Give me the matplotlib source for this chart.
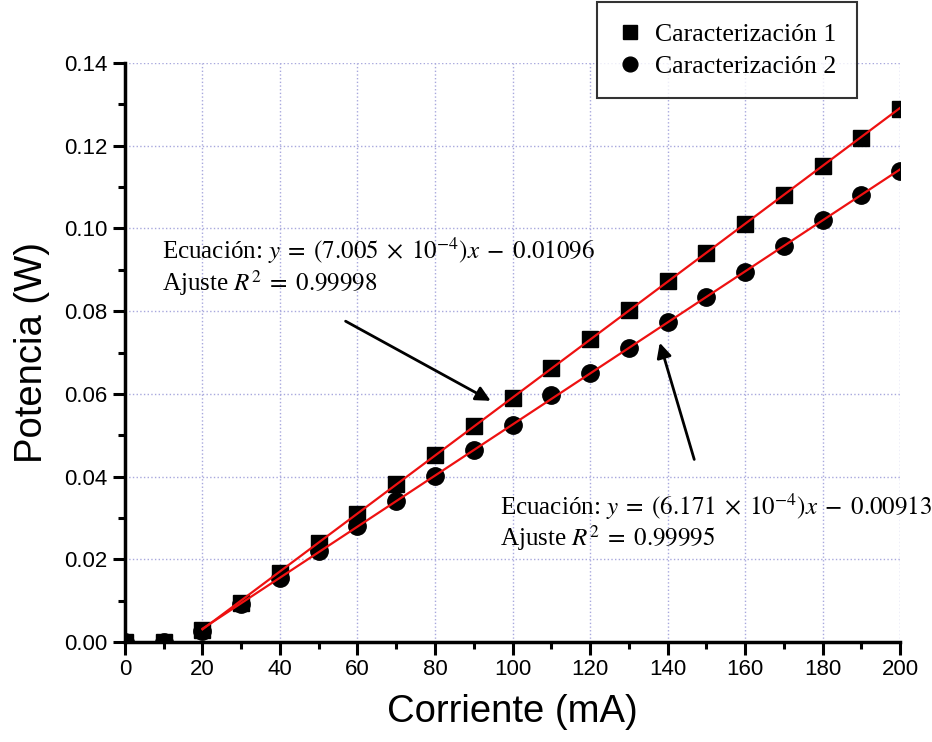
import numpy as np
import matplotlib.pyplot as plt
from matplotlib.ticker import MultipleLocator

# Datos
corriente = [0, 10, 20, 30, 40, 50, 60, 70, 80, 90, 100, 110, 120, 130, 140, 150, 160, 170, 180, 190, 200]
potencia_1 = [0.0, 0.0, 0.0030, 0.0095, 0.0167, 0.0239, 0.0310, 0.0382, 0.0452, 0.0522, 0.0590, 0.0662,
              0.0732, 0.0802, 0.0872, 0.0940, 0.1010, 0.1080, 0.1150, 0.1220, 0.1290]
potencia_2 = [0.0, 0.0, 0.0027, 0.0092, 0.0155, 0.0220, 0.0280, 0.0340, 0.0402, 0.0464, 0.0525, 0.0598,
              0.0650, 0.0710, 0.0774, 0.0835, 0.0895, 0.0958, 0.1020, 0.1080, 0.1140]

# Ajustes lineales (pendiente, ordenada)
ajuste_1 = (7.005e-4, -0.01096)
ajuste_2 = (6.171e-4, -0.00913)
x_ajuste = [20, 200]

plt.rcParams['mathtext.fontset'] = 'stix'

fig = plt.figure(figsize=(9.32, 7.42), dpi=100)
ax = fig.add_axes([0.1341, 0.1348, 0.8316, 0.7802])

ax.plot(corriente, potencia_1, 's', color='black', markersize=12, label='Caracterización 1', zorder=3)
ax.plot(corriente, potencia_2, 'o', color='black', markersize=12.5, label='Caracterización 2', zorder=3)

xa = np.array(x_ajuste)
ax.plot(xa, ajuste_1[0] * xa + ajuste_1[1], color='#ee1111', lw=1.6, zorder=4)
ax.plot(xa, ajuste_2[0] * xa + ajuste_2[1], color='#ee1111', lw=1.6, zorder=4)

ax.set_xlim(0, 200)
ax.set_ylim(0, 0.14)
ax.xaxis.set_major_locator(MultipleLocator(20))
ax.xaxis.set_minor_locator(MultipleLocator(10))
ax.yaxis.set_major_locator(MultipleLocator(0.02))
ax.yaxis.set_minor_locator(MultipleLocator(0.01))
ax.yaxis.set_major_formatter(plt.FormatStrFormatter('%.2f'))

ax.grid(True, which='major', linestyle=':', color='#a8a8dd', lw=1)
ax.set_axisbelow(True)

for s in ['top', 'right']:
    ax.spines[s].set_visible(False)
for s in ['left', 'bottom']:
    ax.spines[s].set_linewidth(2.5)

ax.tick_params(which='major', direction='out', length=9, width=2.2, labelsize=16)
ax.tick_params(which='minor', direction='out', length=5, width=2.2)
for lbl in ax.get_xticklabels() + ax.get_yticklabels():
    lbl.set_family('Liberation Sans')

ax.set_xlabel('Corriente (mA)', fontsize=27.5, family='Liberation Sans', labelpad=10)
ax.set_ylabel('Potencia (W)', fontsize=27.5, family='Liberation Sans', labelpad=10)

# Ecuaciones
ax.text(9.5, 0.0945, r'Ecuación: $y\;=\;(7.005\;\times\;10^{-4})x\;-\;0.01096$', fontsize=18,
        family='Liberation Serif', va='center')
ax.text(9.5, 0.0868, r'Ajuste $R^2\;=\;0.99998$', fontsize=18, family='Liberation Serif', va='center')
ax.text(96.8, 0.0326, r'Ecuación: $y\;=\;(6.171\;\times\;10^{-4})x\;-\;0.00913$', fontsize=18,
        family='Liberation Serif', va='center', clip_on=False)
ax.text(96.8, 0.0251, r'Ajuste $R^2\;=\;0.99995$', fontsize=18, family='Liberation Serif', va='center')

flecha = dict(arrowstyle='-|>', color='black', lw=2, mutation_scale=22)
ax.annotate('', xy=(95, 0.058), xytext=(56.3, 0.0779), arrowprops=flecha)
ax.annotate('', xy=(137.8, 0.073), xytext=(147.1, 0.0435), arrowprops=flecha)

leg = ax.legend(loc='upper left', bbox_to_anchor=(597 / 932, 1 - 2 / 742), bbox_transform=fig.transFigure,
                prop={'family': 'Liberation Serif', 'size': 18.5}, frameon=True, fancybox=False,
                markerscale=0.85, handletextpad=0.45, handlelength=1.0, borderpad=0.8,
                labelspacing=0.35, borderaxespad=0)
leg.get_frame().set_edgecolor('black')
leg.get_frame().set_linewidth(1.5)

fig.savefig('out.png', dpi=100)
